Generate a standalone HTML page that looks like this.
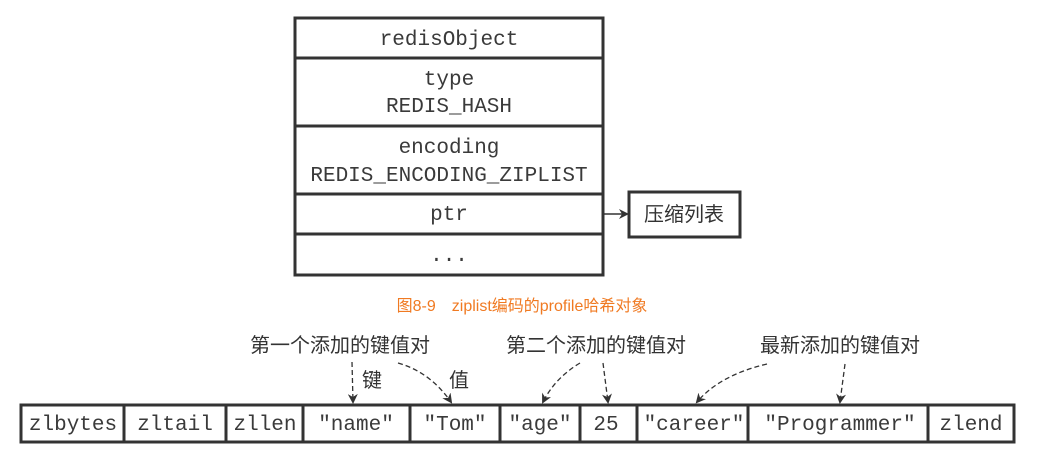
<!DOCTYPE html>
<html><head><meta charset="utf-8"><style>
html,body{margin:0;padding:0;background:#fff;width:1046px;height:466px;overflow:hidden}
svg{display:block}
.m{font-family:"Liberation Mono",monospace;font-size:21px;fill:#3a3a3a}
.c{font-family:"Liberation Sans","Noto Sans CJK SC",sans-serif;font-size:20px;fill:#333}
</style></head><body>
<svg width="1046" height="466" viewBox="0 0 1046 466" xmlns="http://www.w3.org/2000/svg">
<defs><marker id="a" markerWidth="10" markerHeight="10" refX="8" refY="5" orient="auto" markerUnits="userSpaceOnUse"><path d="M0,0 L10,5 L0,10 L3,5 z" fill="#333"/></marker></defs>
<g fill="none" stroke="#333" stroke-width="3">
<rect x="295" y="18" width="308" height="257"/>
<line x1="295" y1="58" x2="603" y2="58"/>
<line x1="295" y1="126" x2="603" y2="126"/>
<line x1="295" y1="194" x2="603" y2="194"/>
<line x1="295" y1="234" x2="603" y2="234"/>
<rect x="629" y="192" width="111" height="45"/>
<rect x="21" y="405" width="993" height="37"/>
<line x1="124" y1="405" x2="124" y2="442"/>
<line x1="226" y1="405" x2="226" y2="442"/>
<line x1="303" y1="405" x2="303" y2="442"/>
<line x1="410" y1="405" x2="410" y2="442"/>
<line x1="500" y1="405" x2="500" y2="442"/>
<line x1="580" y1="405" x2="580" y2="442"/>
<line x1="637" y1="405" x2="637" y2="442"/>
<line x1="748" y1="405" x2="748" y2="442"/>
<line x1="928" y1="405" x2="928" y2="442"/>
</g>
<line x1="604" y1="214" x2="627" y2="214" stroke="#333" stroke-width="1.5" marker-end="url(#a)"/>
<g fill="none" stroke="#333" stroke-width="1.3" stroke-dasharray="5,3">
<path d="M352,362 L353,402" marker-end="url(#a)"/>
<path d="M398,363 Q430,372 451,402" marker-end="url(#a)"/>
<path d="M580,363 Q555,378 543,402" marker-end="url(#a)"/>
<path d="M603,363 L608,402" marker-end="url(#a)"/>
<path d="M767,364 Q720,375 697,402" marker-end="url(#a)"/>
<path d="M845,364 L840,402" marker-end="url(#a)"/>
</g>
<g class="m" text-anchor="middle">
<text x="449" y="45">redisObject</text>
<text x="449" y="85">type</text>
<text x="449" y="112">REDIS_HASH</text>
<text x="449" y="153">encoding</text>
<text x="449" y="181">REDIS_ENCODING_ZIPLIST</text>
<text x="449" y="220">ptr</text>
<text x="449" y="261">...</text>
<text x="73" y="430">zlbytes</text>
<text x="175" y="430">zltail</text>
<text x="265" y="430">zllen</text>
<text x="356" y="430">"name"</text>
<text x="455" y="430">"Tom"</text>
<text x="540" y="430">"age"</text>
<text x="606" y="430">25</text>
<text x="694" y="430">"career"</text>
<text x="840" y="430">"Programmer"</text>
<text x="971" y="430">zlend</text>
</g>
<g class="c">
<text x="684" y="221" text-anchor="middle">压缩列表</text>
<text x="250" y="352">第一个添加的键值对</text>
<text x="506" y="352">第二个添加的键值对</text>
<text x="760" y="352">最新添加的键值对</text>
<text x="362" y="387">键</text>
<text x="449" y="387">值</text>
</g>
<text x="522" y="311" text-anchor="middle" style="font-family:'Liberation Sans','Noto Sans CJK SC',sans-serif;font-size:16px;fill:#f07a22">图8-9　ziplist编码的profile哈希对象</text>
</svg>
</body></html>
